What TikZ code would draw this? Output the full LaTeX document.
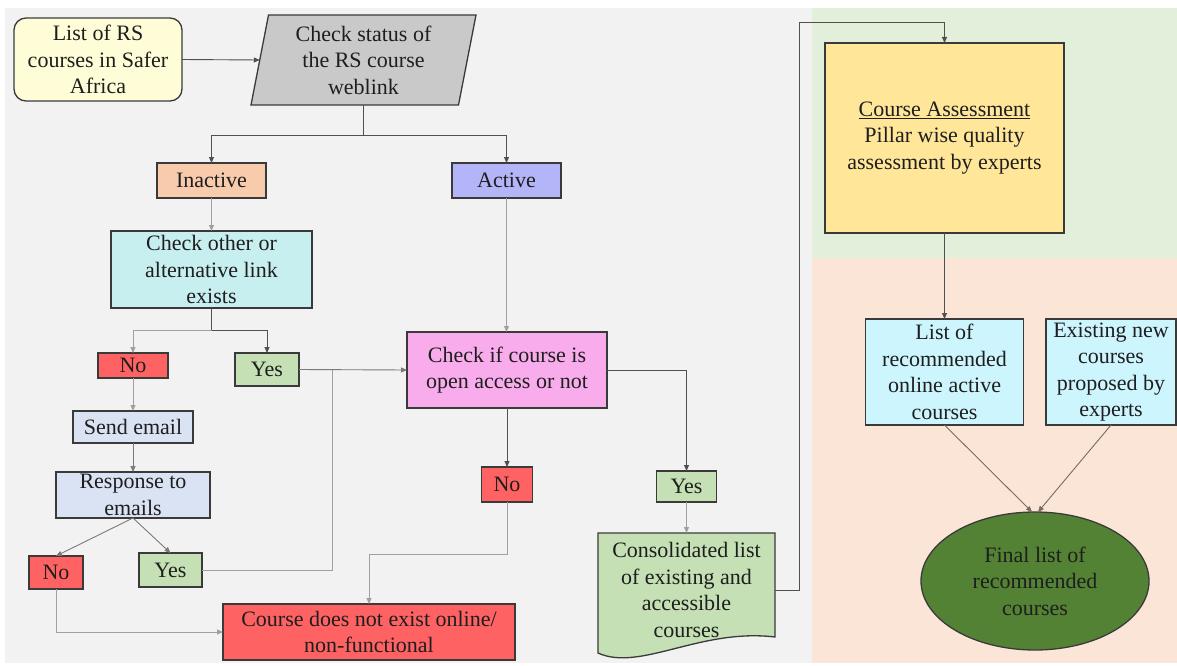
\documentclass[tikz,border=0pt]{standalone}
\usepackage{fontspec}
\setmainfont{Liberation Serif}
\usetikzlibrary{arrows.meta,shapes.geometric,calc}
\definecolor{panelgrey}{HTML}{F2F2F2}
\definecolor{panelgreen}{HTML}{E2EFDA}
\definecolor{panelpeach}{HTML}{FBE5D6}
\definecolor{listyel}{HTML}{FEFDD8}
\definecolor{pargrey}{HTML}{C9C9C9}
\definecolor{inactc}{HTML}{F8CBAD}
\definecolor{actc}{HTML}{B4B4F8}
\definecolor{cyanbox}{HTML}{C8EFF0}
\definecolor{redbox}{HTML}{FF6262}
\definecolor{grnbox}{HTML}{C5E0B4}
\definecolor{bluebox}{HTML}{DAE3F3}
\definecolor{pinkbox}{HTML}{F9ACEC}
\definecolor{yelbox}{HTML}{FFE699}
\definecolor{lcyan}{HTML}{CDF5FE}
\definecolor{darkgrn}{HTML}{548235}
\definecolor{bordc}{HTML}{3A3A3A}
\definecolor{txtc}{HTML}{1E1E1E}
\definecolor{lndark}{HTML}{505050}
\definecolor{lnlight}{HTML}{A0A0A0}
\definecolor{lnmid}{HTML}{7A7A7A}
\definecolor{lnbrown}{HTML}{7A6A60}
\begin{document}
\begin{tikzpicture}[x=1pt,y=-1pt,
  txt/.style={inner sep=0pt, outer sep=0pt, align=center, text=txtc,
    font=\fontsize{22}{26.5}\selectfont},
  box/.style={txt, draw=bordc, line width=1.3pt},
  arr/.style={-{Triangle[length=6pt,width=5pt]}},
  dk/.style={draw=lndark, line width=0.9pt},
  lt/.style={draw=lnlight, line width=0.9pt},
  md/.style={draw=lnmid, line width=0.9pt},
  br/.style={draw=lnbrown, line width=0.9pt}]
\useasboundingbox (0,0) rectangle (1177,666);
\fill[white] (0,0) rectangle (1177,666);
\fill[panelgrey] (5,8) rectangle (812,663);
\fill[panelgreen] (812,8) rectangle (1177,258);
\fill[panelpeach] (812,258) rectangle (1177,663);

% nodes
\node[box, fill=listyel, rounded corners=12pt, minimum width=168pt, minimum height=83pt] (list) at (98,59.5) {List of RS\\courses in Safer\\Africa};
\node[box, fill=pargrey, trapezium, trapezium left angle=75.7, trapezium right angle=104.3, trapezium stretches body, minimum width=225pt, minimum height=90pt] (par) at (363.5,60) {Check status of\\the RS course\\weblink};
\node[box, fill=inactc, minimum width=109pt, minimum height=35pt] (inact) at (211.5,180.5) {Inactive};
\node[box, fill=actc, minimum width=109pt, minimum height=35pt] (act) at (506.5,180.5) {Active};
\node[box, fill=cyanbox, minimum width=201pt, minimum height=77pt] (chk) at (211.5,269.5) {Check other or\\alternative link\\exists};
\node[box, fill=redbox, minimum width=70pt, minimum height=25pt] (no1) at (133,365.5) {No};
\node[box, fill=grnbox, minimum width=64pt, minimum height=33pt] (yes1) at (267,369.5) {Yes};
\node[box, fill=bluebox, minimum width=120pt, minimum height=32pt] (send) at (133,427) {Send email};
\node[box, fill=bluebox, minimum width=154pt, minimum height=46pt] (resp) at (133,495) {Response to\\emails};
\node[box, fill=redbox, minimum width=54pt, minimum height=33pt] (no2) at (56,572.5) {No};
\node[box, fill=grnbox, minimum width=63pt, minimum height=34pt] (yes2) at (170.5,570) {Yes};
\node[box, fill=redbox, minimum width=292pt, minimum height=56pt] (notex) at (369,632) {Course does not exist online/\\non-functional};
\node[box, fill=pinkbox, minimum width=200pt, minimum height=76pt] (open) at (507,370) {Check if course is\\open access or not};
\node[box, fill=redbox, minimum width=51pt, minimum height=35pt] (no3) at (507,484.5) {No};
\node[box, fill=grnbox, minimum width=60pt, minimum height=31pt] (yes3) at (686.5,486.5) {Yes};
\draw[fill=grnbox, draw=bordc, line width=1.3pt] (598,653) -- (598,533) -- (775,533) -- (775,637) .. controls (700,628) and (640,672) .. (598,653) -- cycle;
\node[txt, minimum width=177pt, minimum height=120pt] (cons) at (686.5,590) {Consolidated list\\of existing and\\accessible\\courses};
\node[box, fill=yelbox, minimum width=239pt, minimum height=190pt] (assess) at (944.5,138) {\underline{Course Assessment}\\Pillar wise quality\\assessment by experts};
\node[box, fill=lcyan, minimum width=158pt, minimum height=106pt] (lrec) at (944.5,372) {List of\\recommended\\online active\\courses};
\node[box, fill=lcyan, minimum width=130pt, minimum height=106pt] (exist) at (1111,372) {Existing new\\courses\\proposed by\\experts};
\node[box, fill=darkgrn, ellipse, minimum width=228pt, minimum height=138pt] (final) at (1035,581) {Final list of\\recommended\\courses};

% connectors
\coordinate (sp1) at (363.5,135);
\coordinate (sp2) at (211.5,330);
\coordinate (jn) at (332,369.5);
\coordinate (up) at (799,22);
\draw[dk,arr] (list.east) -- (par.west);
\draw[dk] (par.south) -- (sp1);
\draw[dk,arr] (sp1) -| (inact.north);
\draw[dk,arr] (sp1) -| (act.north);
\draw[lt,arr] (inact.south) -- (chk.north);
\draw[dk] (chk.south) -- (sp2);
\draw[lt,arr] (sp2) -| (no1.north);
\draw[dk,arr] (sp2) -| (yes1.north);
\draw[lt,arr] (no1.south) -- (send.north);
\draw[md,arr] (send.south) -- (resp.north);
\draw[md,arr] (resp.south) -- (no2.north);
\draw[md,arr] (resp.south) -- (yes2.north);
\draw[md,arr] (yes1.east) -- (open.west);
\draw[lt] (yes2.east) -| (jn);
\draw[lt,arr] (no2.south) |- (notex.west);
\draw[lt,arr] (act.south) -- (act.south |- open.north);
\draw[dk,arr] (open.south) -- (no3.north);
\draw[lt,arr] (no3.south) -- ++(0,52) -| (notex.north);
\draw[dk,arr] (open.east) -| (yes3.north);
\draw[lt,arr] (yes3.south) -- (yes3.south |- 0,533);
\draw[dk,arr] (cons.east) -| (up) -| (assess.north);
\draw[dk,arr] (assess.south) -- (lrec.north);
\draw[br,arr] (lrec.south) -- ([xshift=-3pt]final.north);
\draw[br,arr] (exist.south) -- ([xshift=3pt]final.north);
\end{tikzpicture}
\end{document}
